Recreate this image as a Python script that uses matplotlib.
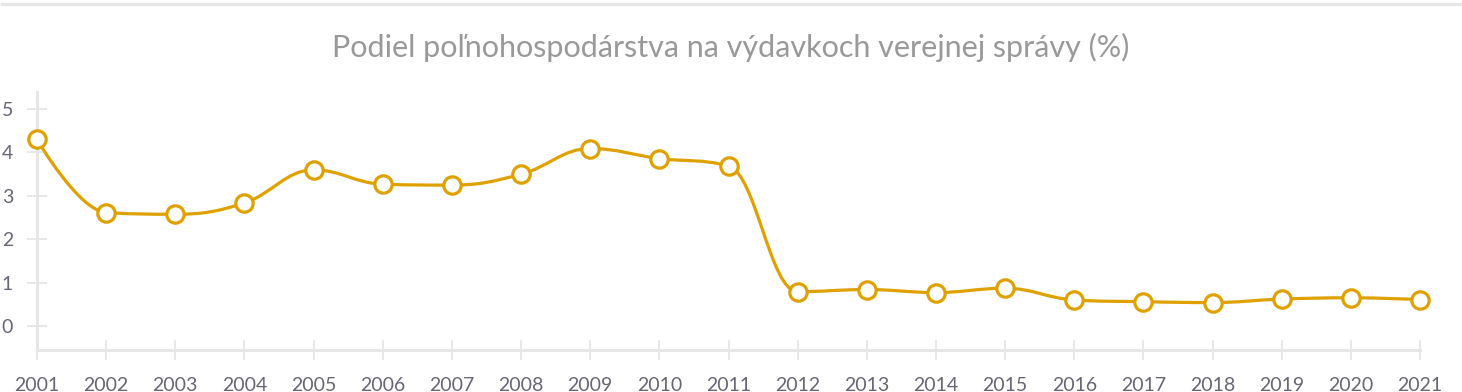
import matplotlib
matplotlib.use("Agg")
import matplotlib.pyplot as plt
from matplotlib.path import Path
from matplotlib.patches import PathPatch
from matplotlib.lines import Line2D

years = [2001, 2002, 2003, 2004, 2005, 2006, 2007, 2008, 2009, 2010, 2011,
         2012, 2013, 2014, 2015, 2016, 2017, 2018, 2019, 2020, 2021]
values = [4.29, 2.61, 2.57, 2.83, 3.59, 3.26, 3.24, 3.49, 4.08, 3.85, 3.68,
          0.79, 0.84, 0.77, 0.87, 0.60, 0.56, 0.54, 0.62, 0.65, 0.61]
y_ticks = [0, 1, 2, 3, 4, 5]
title = "Podiel poľnohospodárstva na výdavkoch verejnej správy (%)"

LINE = "#dfa100"
AXC = "#e6e6e6"
TXT = "#666675"
FONT = ["Lato", "DejaVu Sans"]

W, H, DPI = 1462, 392, 100
fig = plt.figure(figsize=(W / DPI, H / DPI), dpi=DPI)
ax = fig.add_axes([37 / W, 42 / H, (1420 - 37) / W, (350 - 92) / H])

# Highcharts-style spline path (smoothing 1.5)
def spline_path(xs, ys, smoothing=1.5):
    n = len(xs)
    denom = smoothing + 1
    lc = [None] * n
    rc = [None] * n
    for i in range(n):
        x, y = xs[i], ys[i]
        if i == 0 or i == n - 1:
            lc[i] = (x, y)
            rc[i] = (x, y)
            continue
        lx, ly = xs[i - 1], ys[i - 1]
        nx, ny = xs[i + 1], ys[i + 1]
        lcx = (smoothing * x + lx) / denom
        lcy = (smoothing * y + ly) / denom
        rcx = (smoothing * x + nx) / denom
        rcy = (smoothing * y + ny) / denom
        if rcx != lcx:
            corr = ((rcy - lcy) * (rcx - x)) / (rcx - lcx) + y - rcy
            lcy += corr
            rcy += corr
        if lcy > max(ly, y):
            lcy = max(ly, y)
            rcy = 2 * y - lcy
        elif lcy < min(ly, y):
            lcy = min(ly, y)
            rcy = 2 * y - lcy
        if rcy > max(ny, y):
            rcy = max(ny, y)
            lcy = 2 * y - rcy
        elif rcy < min(ny, y):
            rcy = min(ny, y)
            lcy = 2 * y - rcy
        lc[i] = (lcx, lcy)
        rc[i] = (rcx, rcy)
    verts = [(xs[0], ys[0])]
    codes = [Path.MOVETO]
    for i in range(1, n):
        verts += [rc[i - 1], lc[i], (xs[i], ys[i])]
        codes += [Path.CURVE4] * 3
    return Path(verts, codes)

path = spline_path(years, values)
ax.add_patch(PathPatch(path, facecolor="none", edgecolor=LINE, lw=2.3,
                       capstyle="round", joinstyle="round", zorder=3, clip_on=False))
ax.plot(years, values, linestyle="none", marker="o", markersize=12.5,
        markerfacecolor="white", markeredgecolor=LINE, markeredgewidth=2.3,
        zorder=4, clip_on=False)

ax.set_xlim(2001, 2021)
ax.set_ylim(-0.55, 5.38)
ax.set_xticks(years)
ax.set_xticklabels([str(y) for y in years])
ax.set_yticks(y_ticks)
ax.set_yticklabels([str(v) for v in y_ticks])

for s in ["top", "right"]:
    ax.spines[s].set_visible(False)
for s in ["left", "bottom"]:
    ax.spines[s].set_color(AXC)
    ax.spines[s].set_linewidth(2.2)

ax.tick_params(axis="both", direction="inout", length=14.5, width=1.3,
               color=AXC, labelcolor=TXT, labelsize=14)
ax.tick_params(axis="y", pad=10)
ax.tick_params(axis="x", pad=12)
for lab in ax.get_xticklabels() + ax.get_yticklabels():
    lab.set_family(FONT)

fig.text(0.5, (H - 47) / H, title, ha="center", va="center",
         fontsize=22, color="#999999", family=FONT)

fig.add_artist(Line2D([2 / W, 1460 / W], [(H - 3.5) / H, (H - 3.5) / H],
                      color=AXC, lw=2.4, transform=fig.transFigure))

fig.savefig("out.png", dpi=DPI)
